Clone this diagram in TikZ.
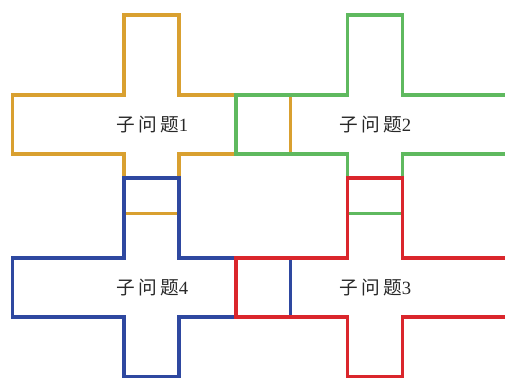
\documentclass[tikz,border=0pt]{standalone}
\usepackage{fontspec}
\setmainfont{Liberation Serif}
\newfontfamily\cjk{Noto Sans CJK SC}
\definecolor{corange}{RGB}{217,160,48}
\definecolor{cgreen}{RGB}{95,185,95}
\definecolor{cblue}{RGB}{46,72,160}
\definecolor{cred}{RGB}{218,38,44}
\definecolor{ctext}{RGB}{40,40,40}
\tikzset{
  crossline/.style={line width=2.3pt, line join=miter},
  lbl/.style={font=\fontsize{14pt}{16pt}\selectfont, text=ctext, inner sep=0pt}
}
% cross: #1 colour, #2 cx, #3 cy
\newcommand\drawcross[3]{%
  \draw[crossline,#1] (#2-27.5,#3-109.5) -- (#2+27.5,#3-109.5) -- (#2+27.5,#3-29.5)
    -- (#2+139,#3-29.5) -- (#2+139,#3+29.5) -- (#2+27.5,#3+29.5) -- (#2+27.5,#3+88.7)
    -- (#2-27.5,#3+88.7) -- (#2-27.5,#3+29.5) -- (#2-139,#3+29.5) -- (#2-139,#3-29.5)
    -- (#2-27.5,#3-29.5) -- cycle;}
\begin{document}
\begin{tikzpicture}[x=0.75pt,y=-0.75pt]
\useasboundingbox (0,0) rectangle (505,378);
\clip (0,0) rectangle (505,378);
\drawcross{corange}{151.5}{124.5}
\drawcross{cgreen}{375}{124.5}
\drawcross{cblue}{151.5}{287.5}
\drawcross{cred}{375}{287.5}
\node[lbl] (p1) at (152.5,124.5) {{\cjk 子\,问\,题}1};
\node[lbl] (p2) at (375.5,124.5) {{\cjk 子\,问\,题}2};
\node[lbl] (p4) at (152.5,287.5) {{\cjk 子\,问\,题}4};
\node[lbl] (p3) at (375.5,287.5) {{\cjk 子\,问\,题}3};
\end{tikzpicture}
\end{document}
